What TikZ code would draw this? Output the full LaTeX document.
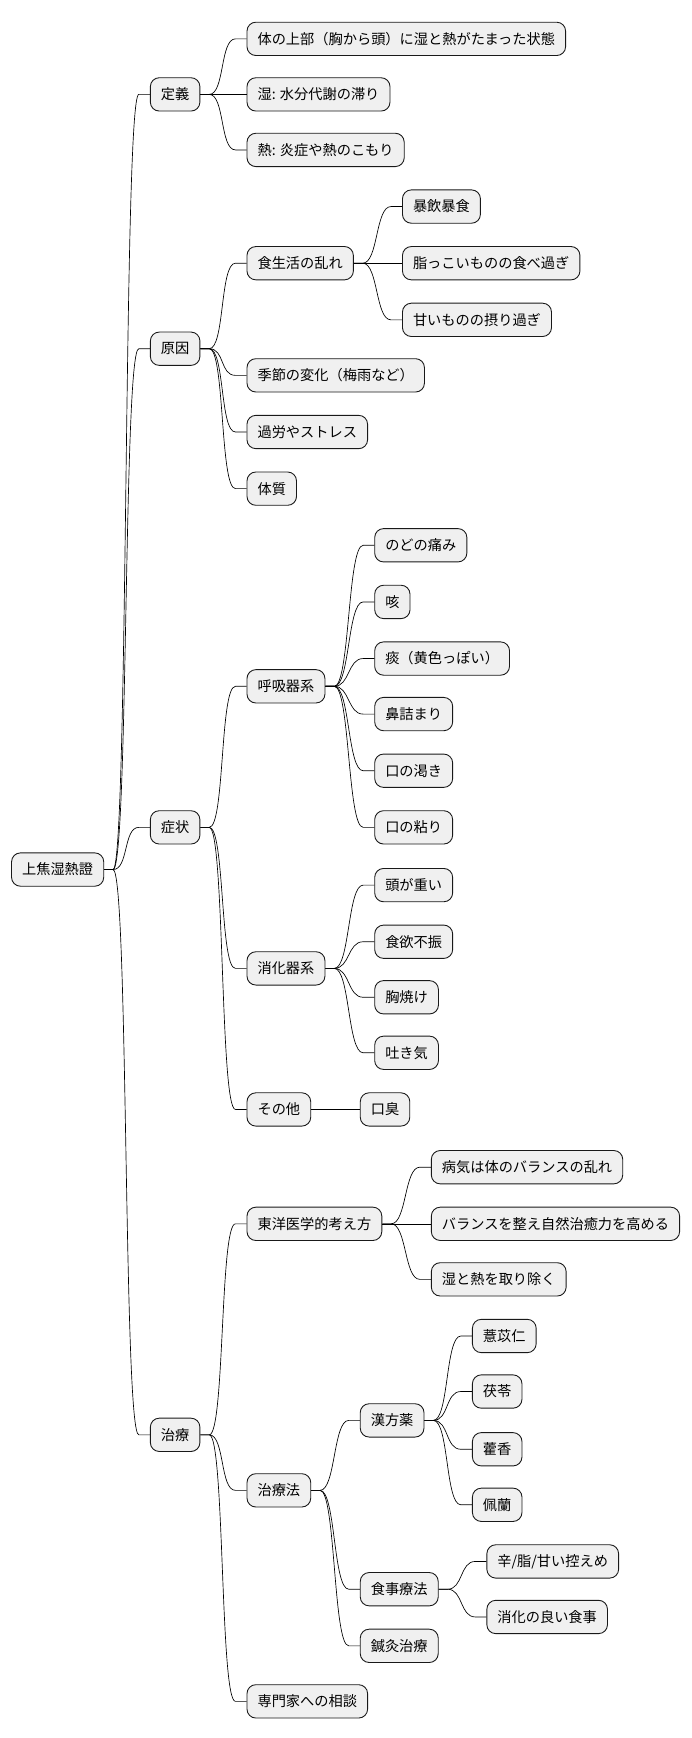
\documentclass[tikz,border=0pt]{standalone}
\usepackage{fontspec}
\setmainfont{Noto Sans CJK JP}
\begin{document}
\begin{tikzpicture}[x=1pt,y=-1pt,
 nd/.style={draw=black!90,fill=black!6,rounded corners=8pt,line width=0.8pt,anchor=west,inner xsep=9.5pt,minimum height=30pt,font=\fontsize{12.8}{14}\selectfont},
 cn/.style={line width=0.6pt}]
\useasboundingbox (0,0) rectangle (623,1565);
\newcommand\nn[4]{\node[nd] (#1) at (#2,#3) {#4};}
\newcommand\cc[2]{\draw[cn] (#1.east) -- ++(8,0) .. controls +(14,0) and ([xshift=-24pt]#2.west) .. ([xshift=-10pt]#2.west) -- (#2.west);}
\nn{r}{10}{783}{上焦湿熱證}
\nn{a}{135}{85}{定義}
\nn{a1}{222}{35}{体の上部（胸から頭）に湿と熱がたまった状態}
\nn{a2}{222}{85}{湿: 水分代謝の滞り}
\nn{a3}{222}{135}{熱: 炎症や熱のこもり}
\nn{b}{135}{314}{原因}
\nn{b1}{222}{237}{食生活の乱れ}
\nn{b11}{362}{186}{暴飲暴食}
\nn{b12}{362}{237}{脂っこいものの食べ過ぎ}
\nn{b13}{362}{288}{甘いものの摂り過ぎ}
\nn{b2}{222}{338}{季節の変化（梅雨など）}
\nn{b3}{222}{389}{過労やストレス}
\nn{b4}{222}{440}{体質}
\nn{c}{135}{745}{症状}
\nn{c1}{222}{618}{呼吸器系}
\nn{c11}{337}{491}{のどの痛み}
\nn{c12}{337}{542}{咳}
\nn{c13}{337}{593}{痰（黄色っぽい）}
\nn{c14}{337}{643}{鼻詰まり}
\nn{c15}{337}{694}{口の渇き}
\nn{c16}{337}{745}{口の粘り}
\nn{c2}{222}{872}{消化器系}
\nn{c21}{337}{797}{頭が重い}
\nn{c22}{337}{848}{食欲不振}
\nn{c23}{337}{898}{胸焼け}
\nn{c24}{337}{948}{吐き気}
\nn{c3}{222}{999}{その他}
\nn{c31}{324}{999}{口臭}
\nn{d}{135}{1292}{治療}
\nn{d1}{222}{1102}{東洋医学的考え方}
\nn{d11}{388}{1051}{病気は体のバランスの乱れ}
\nn{d12}{388}{1102}{バランスを整え自然治癒力を高める}
\nn{d13}{388}{1152}{湿と熱を取り除く}
\nn{d2}{222}{1342}{治療法}
\nn{d21}{324}{1279}{漢方薬}
\nn{d211}{425}{1203}{薏苡仁}
\nn{d212}{425}{1253}{茯苓}
\nn{d213}{425}{1305}{藿香}
\nn{d214}{425}{1355}{佩蘭}
\nn{d22}{324}{1431}{食事療法}
\nn{d221}{438}{1406}{辛/脂/甘い控えめ}
\nn{d222}{438}{1456}{消化の良い食事}
\nn{d23}{324}{1482}{鍼灸治療}
\nn{d3}{222}{1532}{専門家への相談}
\foreach \p/\c in {r/a,r/b,r/c,r/d,a/a1,a/a2,a/a3,b/b1,b/b2,b/b3,b/b4,b1/b11,b1/b12,b1/b13,
 c/c1,c/c2,c/c3,c1/c11,c1/c12,c1/c13,c1/c14,c1/c15,c1/c16,c2/c21,c2/c22,c2/c23,c2/c24,c3/c31,
 d/d1,d/d2,d/d3,d1/d11,d1/d12,d1/d13,d2/d21,d2/d22,d2/d23,d21/d211,d21/d212,d21/d213,d21/d214,d22/d221,d22/d222}
 {\cc{\p}{\c}}
\end{tikzpicture}
\end{document}
